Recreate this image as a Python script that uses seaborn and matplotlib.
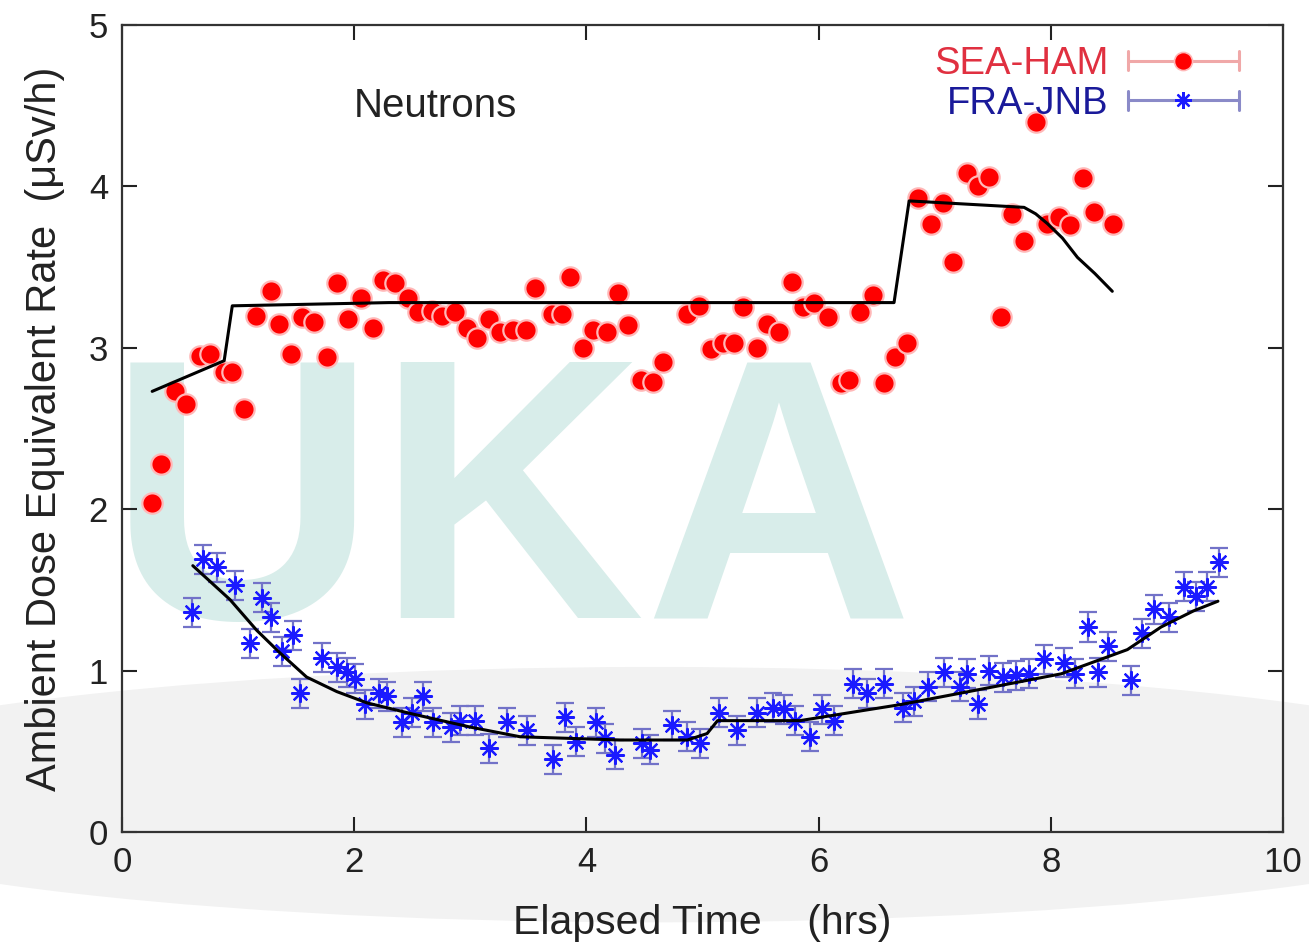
import numpy as np
import pandas as pd
import matplotlib
matplotlib.use("Agg")
import matplotlib.pyplot as plt
import seaborn as sns
from matplotlib.lines import Line2D
from matplotlib.legend_handler import HandlerBase
from matplotlib.patches import Ellipse

# ---------------- data ----------------
red_x = [0.26, 0.34, 0.46, 0.55, 0.67, 0.76, 0.88, 0.95, 1.05, 1.15,
         1.28, 1.35, 1.46, 1.55, 1.65, 1.77, 1.85, 1.95, 2.06, 2.16,
         2.25, 2.35, 2.46, 2.55, 2.67, 2.76, 2.87, 2.97, 3.06, 3.16,
         3.26, 3.37, 3.48, 3.56, 3.70, 3.79, 3.86, 3.97, 4.06, 4.18,
         4.27, 4.36, 4.47, 4.57, 4.66, 4.87, 4.97, 5.07, 5.18, 5.27,
         5.35, 5.47, 5.56, 5.66, 5.77, 5.87, 5.96, 6.08, 6.19, 6.26,
         6.36, 6.47, 6.56, 6.66, 6.76, 6.86, 6.97, 7.07, 7.16, 7.28,
         7.37, 7.47, 7.57, 7.67, 7.77, 7.87, 7.97, 8.07, 8.17, 8.28,
         8.37, 8.54]
red_y = [2.04, 2.28, 2.73, 2.65, 2.95, 2.96, 2.85, 2.85, 2.62, 3.20,
         3.35, 3.15, 2.96, 3.19, 3.16, 2.94, 3.40, 3.18, 3.31, 3.12,
         3.42, 3.40, 3.31, 3.22, 3.23, 3.20, 3.22, 3.12, 3.06, 3.18,
         3.10, 3.11, 3.11, 3.37, 3.21, 3.21, 3.44, 3.00, 3.11, 3.10,
         3.34, 3.14, 2.80, 2.79, 2.91, 3.21, 3.26, 2.99, 3.03, 3.03,
         3.25, 3.00, 3.15, 3.10, 3.41, 3.25, 3.28, 3.19, 2.78, 2.80,
         3.22, 3.33, 2.78, 2.94, 3.03, 3.93, 3.77, 3.90, 3.53, 4.08,
         4.00, 4.06, 3.19, 3.83, 3.66, 4.40, 3.77, 3.81, 3.76, 4.05,
         3.84, 3.77]

blue_x = [0.60, 0.70, 0.82, 0.97, 1.10, 1.21, 1.28, 1.38, 1.47, 1.53,
          1.72, 1.85, 1.94, 2.01, 2.09, 2.21, 2.28, 2.41, 2.50, 2.59,
          2.68, 2.83, 2.91, 3.04, 3.16, 3.32, 3.49, 3.71, 3.82, 3.91,
          4.08, 4.16, 4.25, 4.48, 4.55, 4.74, 4.87, 4.98, 5.14, 5.30,
          5.47, 5.61, 5.70, 5.80, 5.93, 6.03, 6.13, 6.30, 6.42, 6.56,
          6.73, 6.82, 6.94, 7.08, 7.22, 7.28, 7.37, 7.47, 7.59, 7.70,
          7.81, 7.94, 8.11, 8.21, 8.32, 8.41, 8.49, 8.69, 8.79, 8.89,
          9.02, 9.15, 9.25, 9.35, 9.45]
blue_y = [1.36, 1.69, 1.64, 1.53, 1.17, 1.45, 1.33, 1.12, 1.22, 0.86,
          1.08, 1.02, 0.99, 0.95, 0.79, 0.86, 0.84, 0.68, 0.74, 0.84,
          0.68, 0.65, 0.69, 0.69, 0.52, 0.68, 0.63, 0.45, 0.71, 0.56,
          0.68, 0.58, 0.48, 0.55, 0.51, 0.66, 0.59, 0.55, 0.74, 0.63,
          0.74, 0.77, 0.76, 0.69, 0.59, 0.76, 0.69, 0.92, 0.86, 0.92,
          0.77, 0.81, 0.90, 0.99, 0.90, 0.98, 0.79, 1.00, 0.96, 0.97,
          0.98, 1.07, 1.05, 0.98, 1.27, 0.99, 1.15, 0.94, 1.23, 1.38,
          1.33, 1.52, 1.46, 1.52, 1.67]
blue_err = 0.09

red_fit_x = [0.26, 0.88, 0.95, 2.30, 6.65, 6.78, 7.77, 7.87, 7.97, 8.10, 8.23, 8.38, 8.53]
red_fit_y = [2.73, 2.92, 3.26, 3.28, 3.28, 3.91, 3.87, 3.83, 3.77, 3.68, 3.56, 3.46, 3.35]

blue_fit_x = [0.61, 0.93, 1.16, 1.36, 1.59, 1.85, 2.11, 2.51, 3.00, 3.43, 3.86,
              4.29, 4.87, 5.04, 5.13, 5.84, 6.36, 6.71, 7.22, 8.09, 8.66, 8.95,
              9.23, 9.44]
blue_fit_y = [1.65, 1.44, 1.25, 1.11, 0.96, 0.87, 0.80, 0.73, 0.65, 0.59, 0.58,
              0.57, 0.57, 0.61, 0.69, 0.69, 0.75, 0.79, 0.86, 0.98, 1.13, 1.27,
              1.37, 1.43]

series_labels = ["SEA-HAM", "FRA-JNB"]
x_ticks = [0, 2, 4, 6, 8, 10]
y_ticks = [0, 1, 2, 3, 4, 5]

# ---------------- style ----------------
sns.set_theme(style="ticks")
plt.rcParams["font.family"] = ["Liberation Sans", "DejaVu Sans"]

fig = plt.figure(figsize=(13.09, 9.46), dpi=100)
fig.patch.set_facecolor("white")
ax = fig.add_axes([0.0932, 0.1205, 0.8869, 0.8531])
ax.set_facecolor("none")

# faint background watermark
ell = Ellipse((0.50, 0.16), 1.40, 0.27, transform=fig.transFigure,
              facecolor="#f2f2f2", edgecolor="none", zorder=-5)
fig.patches.append(ell)
ax.text(3.35, 1.92, "UKA", fontsize=268, fontweight="bold", color="#d8edea",
        ha="center", va="center", zorder=0.2)

red_df = pd.DataFrame({"x": red_x, "y": red_y})
blue_df = pd.DataFrame({"x": blue_x, "y": blue_y})

# blue error bars
ax.errorbar(blue_x, blue_y, yerr=blue_err, fmt="none", ecolor="#7272c8",
            elinewidth=1.6, capsize=6.5, capthick=1.6, zorder=2)

sns.scatterplot(data=red_df, x="x", y="y", ax=ax, color="#ff0000", s=215,
                edgecolor="#ffb8b8", linewidth=1.6, zorder=3, legend=False)
sns.scatterplot(data=blue_df, x="x", y="y", ax=ax, marker=(8, 2, 0), color="#1a1aff",
                s=150, linewidth=1.6, zorder=3, legend=False)

sns.lineplot(x=red_fit_x, y=red_fit_y, ax=ax, sort=False, estimator=None,
             color="black", lw=2.2, zorder=4)
sns.lineplot(x=blue_fit_x, y=blue_fit_y, ax=ax, sort=False, estimator=None,
             color="black", lw=2.2, zorder=4)

ax.set_xlim(0, 10)
ax.set_ylim(0, 5)
ax.set_xticks(x_ticks)
ax.set_yticks(y_ticks)
ax.tick_params(direction="in", top=True, right=True, length=11, width=1.5,
               labelsize=25, pad=10, colors="#222222")
for sp in ax.spines.values():
    sp.set_visible(True)
    sp.set_color("#333333")
    sp.set_linewidth(1.6)

ax.set_xlabel("Elapsed Time    (hrs)", fontsize=29.5, labelpad=18, color="#222222")
ax.set_ylabel("Ambient Dose Equivalent Rate  (\u03bcSv/h)", fontsize=30,
              labelpad=17, color="#222222")

ax.text(2.0, 4.5, "Neutrons", fontsize=29, ha="left", va="center", color="#222222")


# gnuplot-like legend sample: horizontal bar with end caps and marker
class HandlerGnu(HandlerBase):
    def create_artists(self, legend, orig, xdescent, ydescent, width, height,
                       fontsize, trans):
        y = -ydescent + height / 2
        x0 = -xdescent
        x1 = x0 + width
        c = orig.get_color()
        h = height * 0.35
        arts = [
            Line2D([x0, x1], [y, y], color=c, lw=2.2),
            Line2D([x0, x0], [y - h, y + h], color=c, lw=2.2),
            Line2D([x1, x1], [y - h, y + h], color=c, lw=2.2),
            Line2D([(x0 + x1) / 2], [y], marker=orig.get_marker(),
                   markersize=orig.get_markersize(),
                   markerfacecolor=orig.get_markerfacecolor(),
                   markeredgecolor=orig.get_markeredgecolor(),
                   markeredgewidth=orig.get_markeredgewidth(), linestyle="none"),
        ]
        for a in arts:
            a.set_transform(trans)
        return arts


h_red = Line2D([], [], color="#f0a8a8", marker="o", markersize=13,
               markerfacecolor="#ff0000", markeredgecolor="#ffb8b8", markeredgewidth=1.2)
h_blue = Line2D([], [], color="#8a8ac8", marker=(8, 2, 0), markersize=12,
                markerfacecolor="#1a1aff", markeredgecolor="#1a1aff", markeredgewidth=1.6)
ax.legend([h_red, h_blue], series_labels, loc="upper right",
          bbox_to_anchor=(0.975, 0.993), frameon=False, markerfirst=False,
          handlelength=2.9, handletextpad=0.5, labelspacing=0.1, fontsize=27.5,
          borderaxespad=0, labelcolor=["#e03040", "#1a1a9a"],
          handler_map={Line2D: HandlerGnu()})

fig.savefig("out.png", dpi=100)
